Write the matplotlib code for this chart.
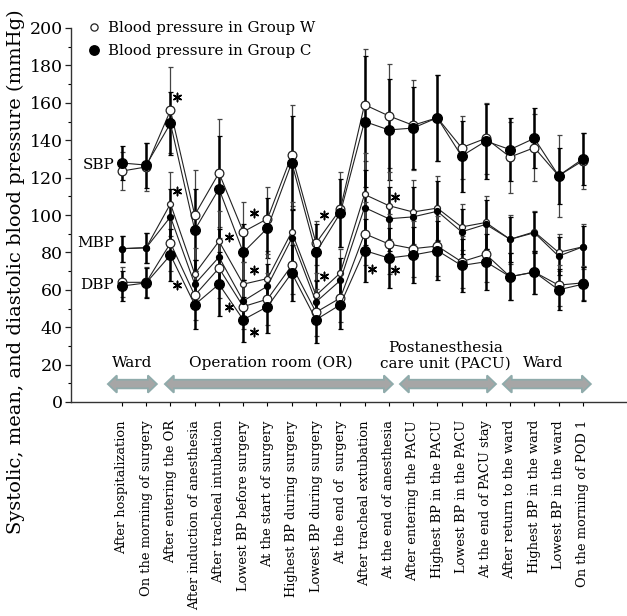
import matplotlib
matplotlib.use("Agg")
import matplotlib.pyplot as plt
from matplotlib.lines import Line2D
from matplotlib.patches import Polygon
import numpy as np

plt.rcParams['font.family'] = ['DejaVu Serif']

labels = ["After hospitalization", "On the morning of surgery", "After entering the OR",
          "After induction of anesthesia", "After tracheal intubation", "Lowest BP before surgery",
          "At the start of surgery", "Highest BP during surgery", "Lowest BP during surgery",
          "At the end of  surgery", "After tracheal extubation", "At the end of anesthesia",
          "After entering the PACU", "Highest BP in the PACU", "Lowest BP in the PACU",
          "At the end of PACU stay", "After return to the ward", "Highest BP in the ward",
          "Lowest BP in the ward", "On the morning of POD 1"]

sbp_w = [123.5, 125.7, 156, 100, 122.5, 91, 98, 132, 85, 103, 159, 153, 148, 152, 136, 141, 131, 136, 121, 129]
sbp_c = [127.8, 126.7, 149, 92, 114, 80, 93, 128, 80, 101, 150, 145.5, 146.5, 152, 131.5, 139.5, 135, 141, 121, 130]
sbp_w_sd = [10, 13, 23, 24, 29, 16, 17, 27, 12, 20, 30, 28, 24, 23, 17, 19, 19, 18, 22, 15]
sbp_c_sd = [9, 12, 17, 22, 28, 15, 16, 25, 15, 18, 35, 27, 22, 23, 19, 20, 17, 16, 15, 14]

mbp_w = [82, 82.5, 106, 68.5, 86, 63, 66, 91, 57, 69, 111, 105, 101.6, 103.7, 93.6, 96, 87, 91, 80, 83]
mbp_c = [82, 82.5, 99, 63, 77.5, 54, 62, 87.5, 53.5, 65, 104, 98, 99, 102, 91, 95, 87, 90.5, 78, 83]
mbp_w_sd = [7, 8, 17, 14, 16, 12, 13, 16, 12, 13, 22, 18, 17, 17, 12.5, 14, 13, 11, 10, 12]
mbp_c_sd = [7, 8, 15, 13, 15, 11, 12, 15, 11, 12, 20, 17, 16, 16, 12, 13, 12, 11, 10, 11]

dbp_w = [64, 64, 85, 57, 71.6, 51, 55, 73, 48, 55.6, 90, 84.5, 82, 83.4, 75, 79, 67, 69.5, 62.5, 63.7]
dbp_c = [62, 63.7, 78.6, 52, 63, 44, 51, 69, 44, 52, 81, 77, 78.6, 81, 73, 75, 67, 69.5, 60, 63]
dbp_w_sd = [8, 8, 15, 13, 16, 12, 14, 15, 12.5, 13, 17, 16, 15, 16, 14, 15, 12.5, 11.5, 11, 9]
dbp_c_sd = [8, 8, 14, 13, 17, 12, 14, 15, 12.5, 13, 17, 16, 15, 16, 14, 15, 12.5, 11.5, 11, 9]

# significance markers (x in time-point index units, y in mmHg)
sig_x = [2.27, 2.27, 2.27, 4.41, 5.44, 5.44, 4.41, 5.44, 8.33, 8.33, 10.3, 11.25, 11.25]
sig_y = [163, 113, 62.6, 88, 101, 70.6, 51, 37.5, 100, 67.4, 71, 70.6, 109.6]

series_names = ["SBP", "MBP", "DBP"]
series_label_y = [126.7, 85, 62.6]

phase_names = ["Ward", "Operation room (OR)", "Postanesthesia\ncare unit (PACU)", "Ward"]
phase_start = [-0.58, 1.77, 11.46, 15.7]
phase_end = [1.44, 11.17, 15.42, 19.33]
phase_text_x = [0.42, 6.15, 13.35, 17.35]
phase_text_y = [21, 21, 24.6, 21]

x = np.arange(len(labels))

fig = plt.figure(figsize=(6.27, 6.16), dpi=100)
ax = fig.add_axes([71/627, 1-402/616, 1-71/627, (402-28)/616])

groups = [
    (sbp_w, sbp_w_sd, sbp_c, sbp_c_sd, 6.3, 7.0),
    (mbp_w, mbp_w_sd, mbp_c, mbp_c_sd, 4.3, 4.3),
    (dbp_w, dbp_w_sd, dbp_c, dbp_c_sd, 6.3, 7.0),
]
for w, wsd, c, csd, msw, msc in groups:
    ax.errorbar(x, w, yerr=wsd, fmt='none', ecolor='#444444', elinewidth=0.9,
                capsize=1.8, capthick=0.9, zorder=2)
    ax.errorbar(x, c, yerr=csd, fmt='none', ecolor='black', elinewidth=1.8,
                capsize=1.8, capthick=0.9, zorder=2)
    ax.plot(x, w, '-', color='#222222', lw=0.8, marker='o', ms=msw,
            mfc='white', mec='#222222', mew=0.9, zorder=3)
    ax.plot(x, c, '-', color='#222222', lw=0.8, marker='o', ms=msc,
            mfc='black', mec='black', mew=0.9, zorder=4)

ax.scatter(sig_x, sig_y, marker=(6, 2, 0), s=36, color='black', linewidths=1.1, zorder=5)

for name, yy in zip(series_names, series_label_y):
    ax.text(-0.32, yy, name, ha='right', va='center', fontsize=11)

# phase arrows
yc, b, h, L = 9.6, 2.3, 4.6, 0.37
for x0, x1, nm, tx, ty in zip(phase_start, phase_end, phase_names, phase_text_x, phase_text_y):
    pts = [(x0, yc), (x0 + L, yc + h), (x0 + L, yc + b), (x1 - L, yc + b), (x1 - L, yc + h),
           (x1, yc), (x1 - L, yc - h), (x1 - L, yc - b), (x0 + L, yc - b), (x0 + L, yc - h)]
    ax.add_patch(Polygon(pts, closed=True, facecolor='#a6a6a6', edgecolor='#8fabab', lw=1.3, zorder=2))
    ax.text(tx, ty, nm, ha='center', va='center', fontsize=11, linespacing=1.1)

ax.set_xlim(-2.1, 20.82)
ax.set_ylim(0, 200)
ax.set_yticks(np.arange(0, 201, 20))
ax.set_yticks(np.arange(10, 200, 20), minor=True)
ax.set_xticks(x)
ax.set_xticklabels(labels, rotation=90, va='top', ha='center', fontsize=9.4)
ax.tick_params(axis='y', which='major', length=4, width=0.9, labelsize=12.5, pad=2, colors='#222222', labelcolor='black')
ax.tick_params(axis='y', which='minor', length=2, width=0.8)
ax.tick_params(axis='x', length=3, width=0.8, pad=10)
for s in ['top', 'right']:
    ax.spines[s].set_visible(False)
for s in ['left', 'bottom']:
    ax.spines[s].set_linewidth(1.0)
    ax.spines[s].set_color('#333333')

handles = [Line2D([], [], ls='none', marker='o', ms=5.2, mfc='white', mec='#222222', mew=0.9),
           Line2D([], [], ls='none', marker='o', ms=6.8, mfc='black', mec='black')]
ax.legend(handles, ["Blood pressure in Group W", "Blood pressure in Group C"],
          loc='upper left', bbox_to_anchor=(85/627, 1-21/616), bbox_transform=fig.transFigure,
          frameon=False, fontsize=10.8, handletextpad=0.3, handlelength=1.2,
          labelspacing=0.62, borderpad=0, borderaxespad=0)

fig.text(16/627, 1-272/616, "Systolic, mean, and diastolic blood pressure (mmHg)",
         rotation=90, ha='center', va='center', fontsize=14)

fig.savefig("out.png", dpi=100)
